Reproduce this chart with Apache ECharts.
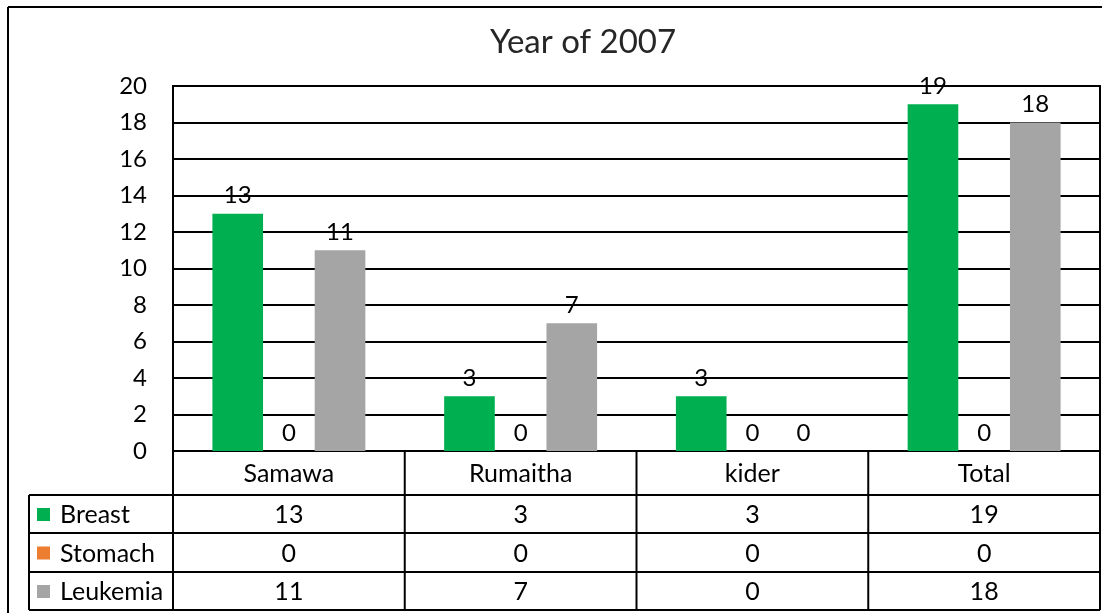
<!DOCTYPE html>
<html lang="en">

<head>
  <meta charset="UTF-8">
  <title>Year of 2007</title>
  <script src="https://cdn.jsdelivr.net/npm/echarts@6/dist/echarts.min.js"></script>
  <style>
    * {
      padding: 0;
      margin: 0;
    }

    #box {
      width: 1102px;
      height: 613px;
      background: #fff;
    }
  </style>
</head>

<body>
  <div id="box"></div>
  <script>
    var categories = ['Samawa', 'Rumaitha', 'kider', 'Total']
    var seriesNames = ['Breast', 'Stomach', 'Leukemia']
    var breast = [13, 3, 3, 19]
    var stomach = [0, 0, 0, 0]
    var leukemia = [11, 7, 0, 18]
    var colors = ['#00B050', '#ED7D31', '#A5A5A5']

    var font = 'Lato, "Open Sans", sans-serif'
    var gridLeft = 173, gridTop = 86, gridRight = 1100, gridBottom = 451
    var tableLeft = 29
    // row boundaries of the data table under the axis
    var rowY = [451, 495, 533, 572, 610]

    var mCharts = echarts.init(document.getElementById('box'))
    var allData = [breast, stomach, leukemia]

    var series = []
    for (let i = 0; i < seriesNames.length; i++) {
      series.push({
        name: seriesNames[i],
        type: 'bar',
        data: allData[i],
        barGap: '1%',
        barCategoryGap: '34%',
        itemStyle: { color: colors[i] },
        label: {
          show: true,
          position: 'top',
          distance: 6,
          color: '#000',
          fontSize: 24,
          fontFamily: font
        },
        z: 3
      })
    }

    // table lines + texts
    var g = []
    function line(x1, y1, x2, y2) {
      g.push({
        type: 'line',
        shape: { x1: x1, y1: y1, x2: x2, y2: y2 },
        style: { stroke: '#000', lineWidth: 2 },
        z: 10
      })
    }
    function text(str, x, y, align) {
      g.push({
        type: 'text',
        x: x,
        y: y,
        style: {
          text: str,
          fill: '#000',
          fontSize: 25,
          fontFamily: font,
          align: align || 'center',
          verticalAlign: 'middle'
        },
        z: 10
      })
    }

    // outer frame
    line(8, 7, 1102, 7)
    line(8, 7, 8, 613)

    var colW = (gridRight - gridLeft) / categories.length
    for (let r = 1; r < rowY.length; r++) {
      line(tableLeft, rowY[r], gridRight, rowY[r])
    }
    line(tableLeft, rowY[1], tableLeft, rowY[4])
    for (let c = 0; c <= categories.length; c++) {
      line(gridLeft + c * colW, rowY[0], gridLeft + c * colW, rowY[4])
    }
    for (let c = 0; c < categories.length; c++) {
      var cx = gridLeft + (c + 0.5) * colW
      text(categories[c], cx, (rowY[0] + rowY[1]) / 2 + 1)
      for (let r = 0; r < allData.length; r++) {
        text(String(allData[r][c]), cx, (rowY[r + 1] + rowY[r + 2]) / 2 + 1)
      }
    }
    for (let r = 0; r < seriesNames.length; r++) {
      var cy = (rowY[r + 1] + rowY[r + 2]) / 2
      g.push({
        type: 'rect',
        shape: { x: 37, y: cy - 6, width: 13, height: 13 },
        style: { fill: colors[r] },
        z: 10
      })
      text(seriesNames[r], 60, cy + 1, 'left')
    }

    var option = {
      animation: false,
      backgroundColor: '#fff',
      title: {
        text: 'Year of 2007',
        left: 578,
        textAlign: 'center',
        top: 21,
        textStyle: {
          color: '#262626',
          fontSize: 33,
          fontWeight: 'normal',
          fontFamily: font
        }
      },
      grid: {
        left: gridLeft,
        top: gridTop,
        right: 1102 - gridRight,
        bottom: 613 - gridBottom,
        show: true,
        borderColor: '#000',
        borderWidth: 2
      },
      xAxis: {
        type: 'category',
        data: categories,
        axisLine: { lineStyle: { color: '#000', width: 2 } },
        axisTick: { show: false },
        axisLabel: { show: false }
      },
      yAxis: {
        type: 'value',
        min: 0,
        max: 20,
        interval: 2,
        axisLine: { show: true, lineStyle: { color: '#000', width: 2 } },
        axisTick: { show: false },
        axisLabel: {
          margin: 26,
          color: '#000',
          fontSize: 24,
          fontFamily: font
        },
        splitLine: { lineStyle: { color: '#000', width: 2 } }
      },
      series: series,
      graphic: g
    }
    mCharts.setOption(option)
  </script>
</body>

</html>
